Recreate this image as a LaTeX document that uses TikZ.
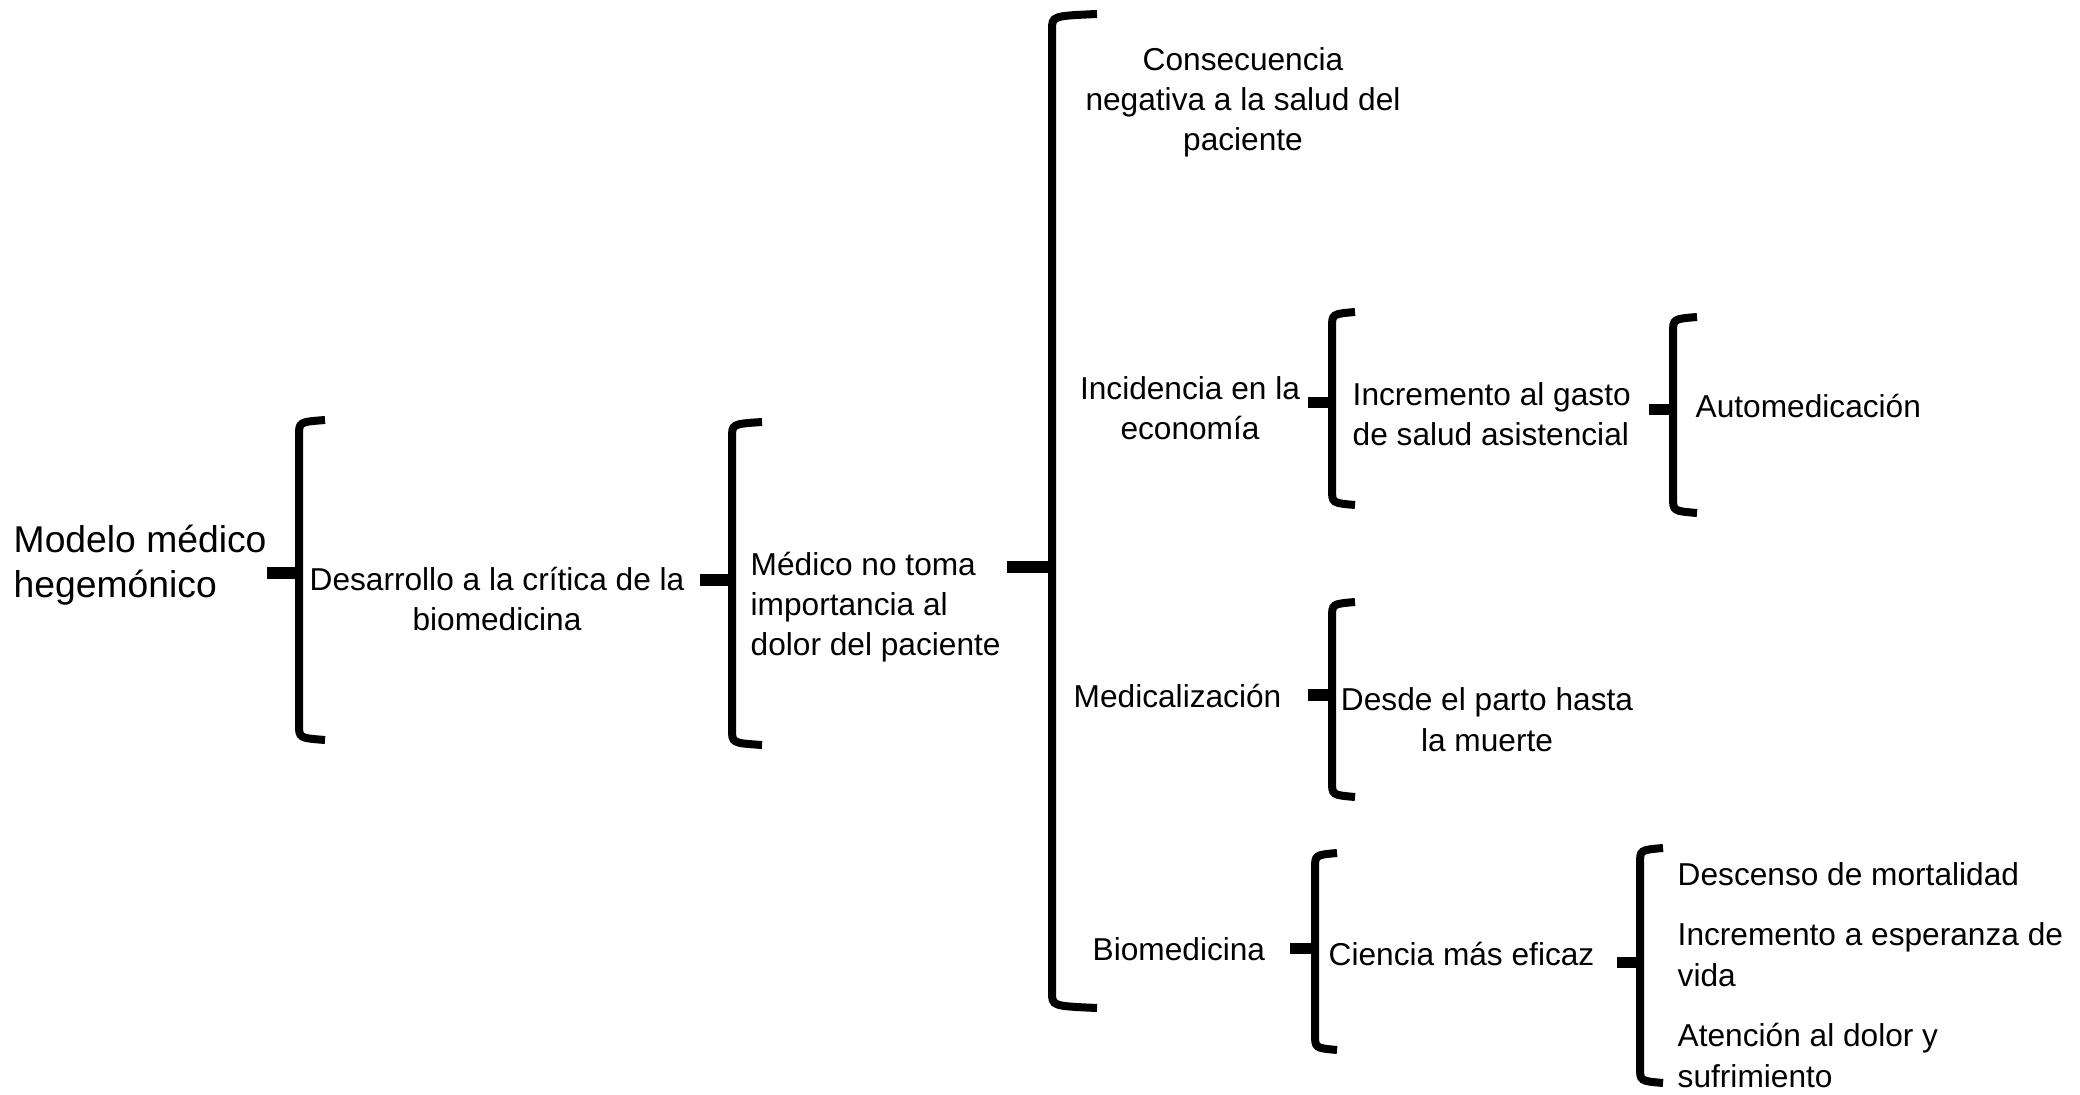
\documentclass[tikz,border=0pt]{standalone}
\usepackage{fontspec}
\setmainfont{Liberation Sans}

% brace: name, x, top, nub y, bottom, nub tip x, hook end x
\newcommand{\llave}[7]{%
  \draw[brace line] (#7,#3) .. controls (#2,#3+2) .. (#2,#3+16) -- (#2,#5-16) .. controls (#2,#5-2) .. (#7,#5);
  \draw[brace nub] (#6,#4) -- (#2,#4);
  \coordinate (#1) at (#6,#4);
}

\begin{document}
\begin{tikzpicture}[x=0.01cm, y=-0.01cm,
    main node/.style={inner sep=0pt, font=\fontsize{9}{11.4}\selectfont},
    title node/.style={inner sep=0pt, align=left, font=\fontsize{10.6}{12.6}\selectfont},
    brace line/.style={line width=0.08cm},
    brace nub/.style={line width=0.11cm}]
    \useasboundingbox (0,0) rectangle (2080,1095);

    % anchors sit on the baseline of the last line
    \node[title node, anchor=base west] (modelo) at (13,597) {Modelo médico\\hegemónico};
    \node[main node, anchor=base, align=center] (desarrollo) at (497,631) {Desarrollo a la crítica de la\\biomedicina};
    \node[main node, anchor=base west, align=left] (medico) at (750,656) {Médico no toma\\importancia al\\dolor del paciente};

    \node[main node, anchor=base, align=center] (consecuencia) at (1243,151) {Consecuencia\\negativa a la salud del\\paciente};
    \node[main node, anchor=base, align=center] (incidencia) at (1190,440) {Incidencia en la\\economía};
    \node[main node, anchor=base west, align=left] (gasto) at (1352,446) {Incremento al gasto\\de salud asistencial};
    \node[main node, anchor=base west] (automed) at (1695,418) {Automedicación};
    \node[main node, anchor=base west] (medicaliz) at (1073,708) {Medicalización};
    \node[main node, anchor=base, align=center] (parto) at (1487,751) {Desde el parto hasta\\la muerte};
    \node[main node, anchor=base west] (biomed) at (1092,960) {Biomedicina};
    \node[main node, anchor=base west] (ciencia) at (1328,965) {Ciencia más eficaz};
    \node[main node, anchor=base west] (descenso) at (1677,885) {Descenso de mortalidad};
    \node[main node, anchor=base west, align=left] (esperanza) at (1677,986) {Incremento a esperanza de\\vida};
    \node[main node, anchor=base west, align=left] (atencion) at (1677,1087) {Atención al dolor y\\sufrimiento};

    \llave{b1}{299}{420}{573}{740}{267}{325}
    \llave{b2}{732}{422}{580}{745}{700}{762}
    \llave{b3}{1052}{14}{567}{1008}{1007}{1097}
    \llave{b4}{1332}{312}{403}{505}{1308}{1355}
    \llave{b5}{1673}{317}{410}{513}{1649}{1697}
    \llave{b6}{1332}{602}{695}{797}{1308}{1355}
    \llave{b7}{1315}{853}{948}{1050}{1290}{1337}
    \llave{b8}{1640}{848}{962}{1083}{1617}{1663}
\end{tikzpicture}
\end{document}
